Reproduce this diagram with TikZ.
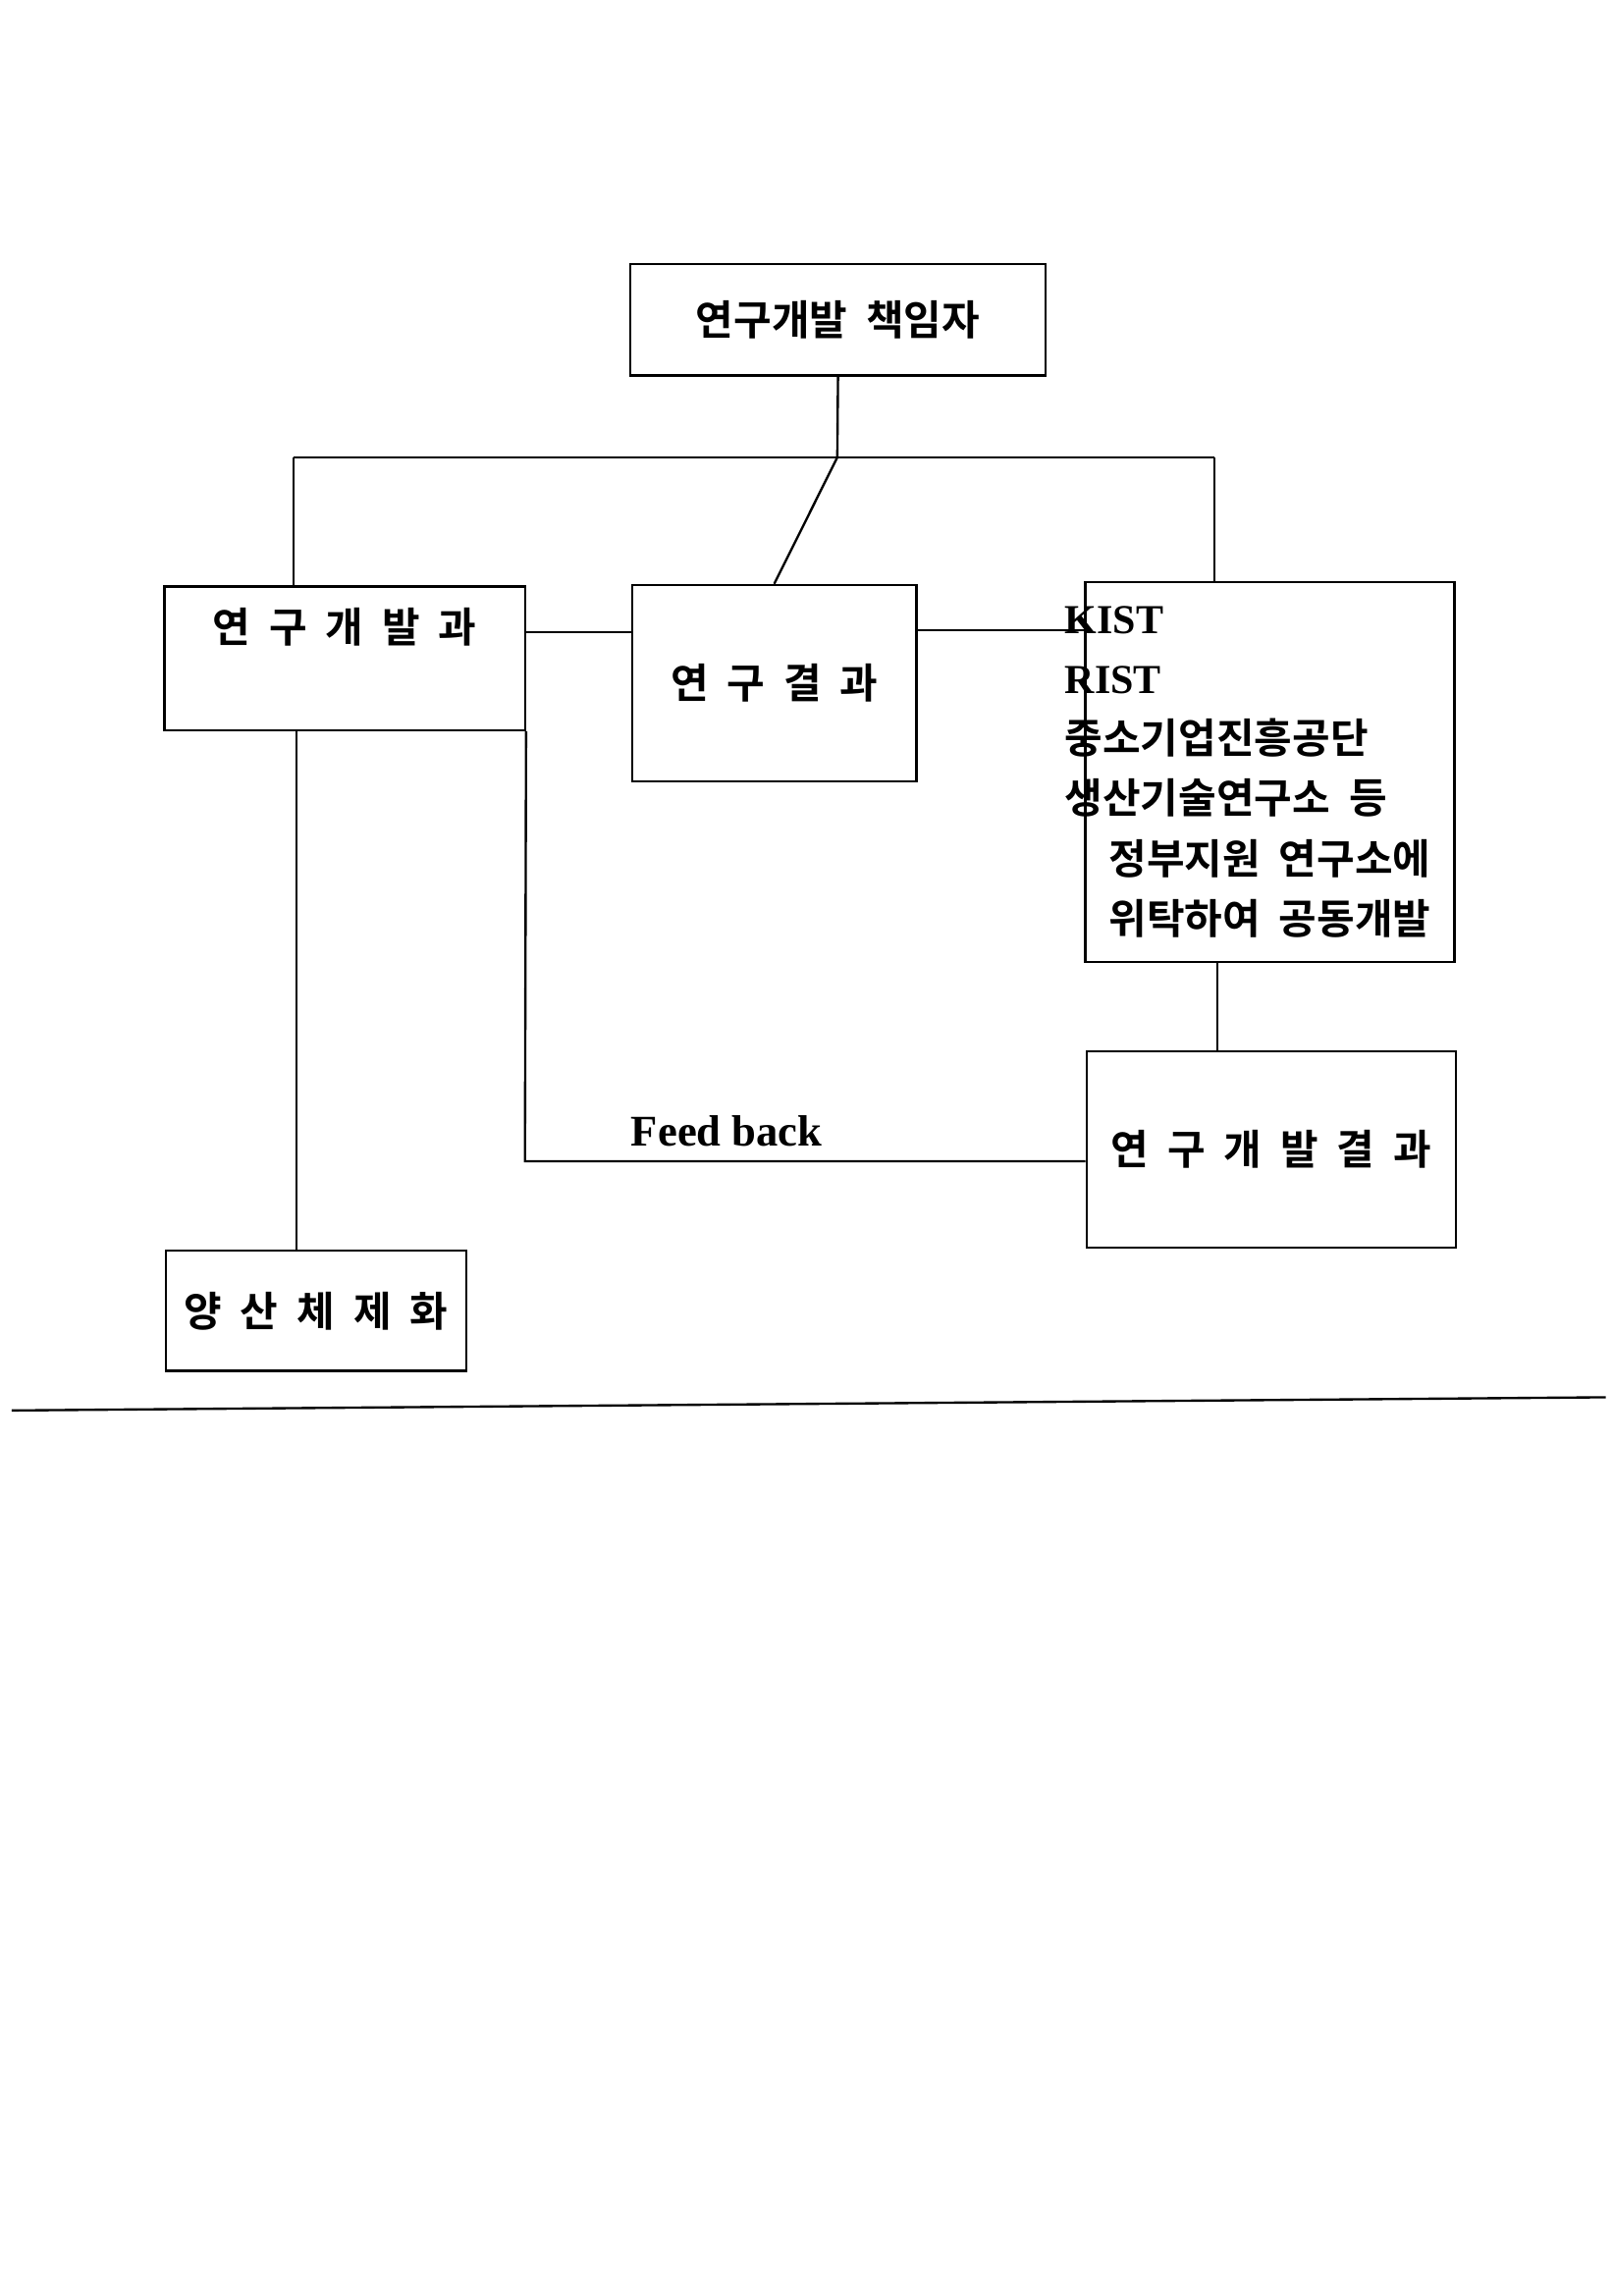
\documentclass[tikz,border=0pt]{standalone}
\usepackage{fontspec}
\setmainfont{Liberation Serif}
\newfontfamily\kr{Noto Sans CJK KR}[BoldFont={Noto Sans CJK KR Bold}]
\usetikzlibrary{positioning}
\newcommand{\gap}{\hspace{0.45em}}
\begin{document}
\begin{tikzpicture}[x=0.02cm,y=-0.02cm,
    box/.style={draw,line width=0.9pt,inner sep=0pt,font=\kr\bfseries\fontsize{16}{23.3}\selectfont},
    link/.style={line width=0.9pt}]
  \useasboundingbox (0,0) rectangle (1100,1566);
  \tikzstyle{every node}+=[align=center]
  % boxes
  \node[box,minimum width=5.66cm,minimum height=1.52cm] (head) at (571.5,218) {연구개발\gap 책임자};
  \node[box,minimum width=4.92cm,minimum height=1.96cm,text depth=0.9cm] (dept) at (235,449) {연\gap 구\gap 개\gap 발\gap 과};
  \node[box,minimum width=3.88cm,minimum height=2.68cm] (res) at (528,466) {연\gap 구\gap 결\gap 과};
  \node[box,minimum width=5.04cm,minimum height=5.18cm,align=left] (inst) at (866,526.5)
    {\hspace{-0.6cm}\textrm{KIST}\\ \hspace{-0.6cm}\textrm{RIST}\\ \hspace{-0.6cm}중소기업진흥공단\\ \hspace{-0.6cm}생산기술연구소\gap 등\\ 정부지원\gap 연구소에\\ 위탁하여\gap 공동개발};
  \node[box,minimum width=5.04cm,minimum height=2.68cm] (devres) at (867,784) {연\gap 구\gap 개\gap 발\gap 결\gap 과};
  \node[box,minimum width=4.1cm,minimum height=1.64cm] (mass) at (215.5,894) {양\gap 산\gap 체\gap 제\gap 화};
  % connectors
  \coordinate (jc) at (571,312);
  \coordinate (jl) at (200,312);
  \coordinate (jr) at (828,312);
  \draw[link] (head.south) -- (jc) -- (res.north);
  \draw[link] (jl) -- (jr);
  \draw[link] (jl) -- (jl |- dept.north);
  \draw[link] (jr) -- (jr |- inst.north);
  \draw[link] (dept.east |- 0,431) -- (res.west |- 0,431);
  \draw[link] (res.east |- 0,430) -- (inst.west |- 0,430);
  \draw[link] (202,498) -- (202,853);
  \draw[link] (830,656) -- (830,717);
  \coordinate (fb) at (358,792);
  \draw[link] (dept.south east) -- (fb) -- (devres.west |- fb)
    node[pos=0.36,above=2pt,font=\bfseries\fontsize{17}{20}\selectfont] (fbl) {Feed back};
  % rule
  \draw[line width=0.9pt] (8,962) -- (1095,953);
\end{tikzpicture}
\end{document}
